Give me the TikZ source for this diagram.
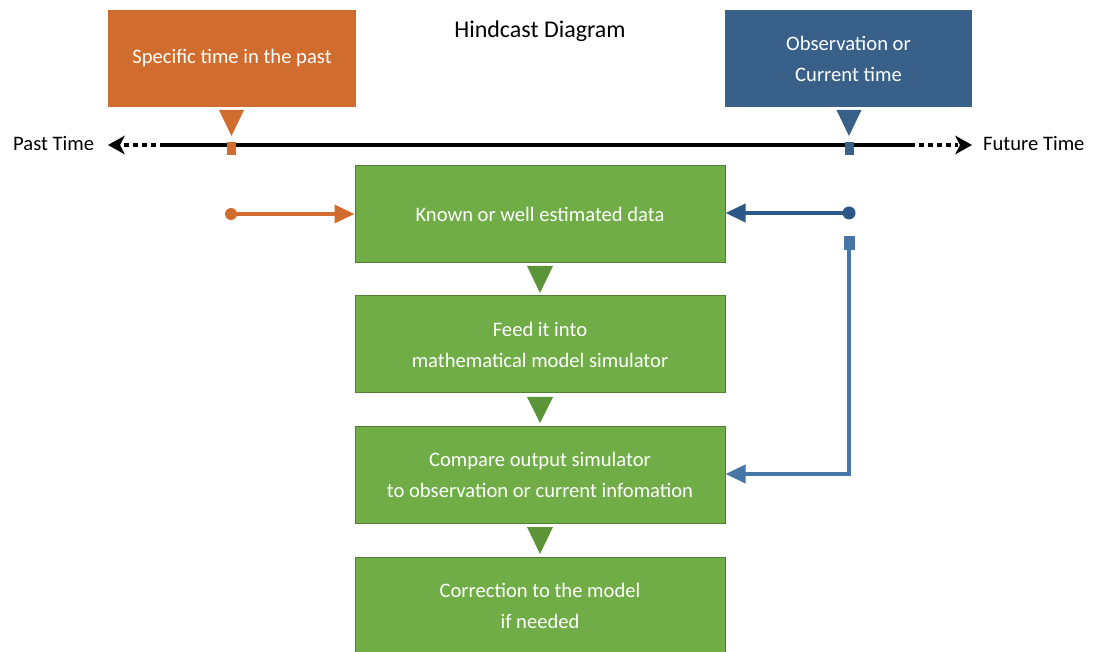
\documentclass[tikz,border=0pt]{standalone}
\usepackage{fontspec}
\setmainfont{Carlito}
\usetikzlibrary{arrows.meta,calc}
\definecolor{orng}{RGB}{208,108,46}
\definecolor{blu}{RGB}{56,96,136}
\definecolor{bluA}{RGB}{44,88,136}
\definecolor{bluB}{RGB}{70,118,166}
\definecolor{grn}{RGB}{112,173,71}
\definecolor{grnD}{RGB}{80,126,50}
\definecolor{grnT}{RGB}{92,148,56}
\begin{document}
\begin{tikzpicture}[x=1pt,y=-1pt,
  txt/.style={font=\fontsize{20.6}{31}\selectfont, align=center},
  gbox/.style={txt, draw=grnD, line width=1pt, fill=grn, text=white, minimum width=370pt, minimum height=97pt, inner sep=0pt},
  obox/.style={txt, fill=orng, text=white, minimum width=248pt, minimum height=97pt, inner sep=0pt},
  bbox/.style={txt, fill=blu, text=white, minimum width=247pt, minimum height=97pt, inner sep=0pt},
  lbl/.style={txt, text=black, inner sep=0pt},
  tline/.style={line width=3.5pt, black},
  dotline/.style={line width=3.5pt, black, dash pattern=on 5pt off 4pt},
  conn/.style={line width=3.5pt, -{Triangle[length=20pt,width=18pt]}}
]
\useasboundingbox (0,0) rectangle (1093,652);
\fill[white] (0,0) rectangle (1093,652);

% title
\node[lbl, font=\fontsize{24}{30}\selectfont] (title) at (540,31) {Hindcast Diagram};

% top boxes
\node[obox] (past) at (232,58.5) {Specific time in the past};
\node[bbox] (obs) at (848.5,58.5) {Observation or\\Current time};

% timeline
\coordinate (tl1) at (165,145);
\coordinate (tl2) at (910,145);
\coordinate (tlL) at (108,145);
\coordinate (tlR) at (972,145);
\draw[tline] (tl1) -- (tl2);
\draw[dotline] (tl1) -- (122,145);
\draw[dotline] (tl2) -- (958,145);
\fill (tlL) -- (125,135.5) -- (120,145) -- (125,154.5) -- cycle;
\fill (tlR) -- (955,135.5) -- (960,145) -- (955,154.5) -- cycle;
\node[lbl, anchor=west] (pastt) at (13,143) {Past Time};
\node[lbl, anchor=west] (futt) at (983,143) {Future Time};

% markers on timeline
\fill[orng] (219,110) -- (244,110) -- (231.5,136) -- cycle;
\fill[orng] (227,142) rectangle (236,155);
\fill[blu] (836.5,110) -- (861.5,110) -- (849,136) -- cycle;
\fill[blu] (844.5,142) rectangle (853.5,155);

% green boxes
\node[gbox] (b1) at (540,214.5) {Known or well estimated data};
\node[gbox] (b2) at (540,344.5) {Feed it into\\mathematical model simulator};
\node[gbox] (b3) at (540,475) {Compare output simulator\\to observation or current infomation};
\node[gbox] (b4) at (540,605.5) {Correction to the model\\if needed};

% green triangles between boxes
\fill[grnT] (527,266) -- (553,266) -- (540,293) -- cycle;
\fill[grnT] (527,397) -- (553,397) -- (540,423) -- cycle;
\fill[grnT] (527,527) -- (553,527) -- (540,554) -- cycle;

% orange input arrow
\coordinate (od) at (231,214);
\fill[orng] (od) circle (6pt);
\draw[orng, conn] (od) -- (b1.west |- od);

% blue input arrow
\coordinate (bd) at (849,213);
\fill[bluA] (bd) circle (6.5pt);
\draw[bluA, conn] (bd) -- (b1.east |- bd);

% blue feedback path
\coordinate (bs) at (849,250);
\fill[bluB] (843.5,236) rectangle (854.5,250);
\draw[bluB, conn] (bs) -- (849,474) -- (b3.east |- 0,474);
\end{tikzpicture}
\end{document}
